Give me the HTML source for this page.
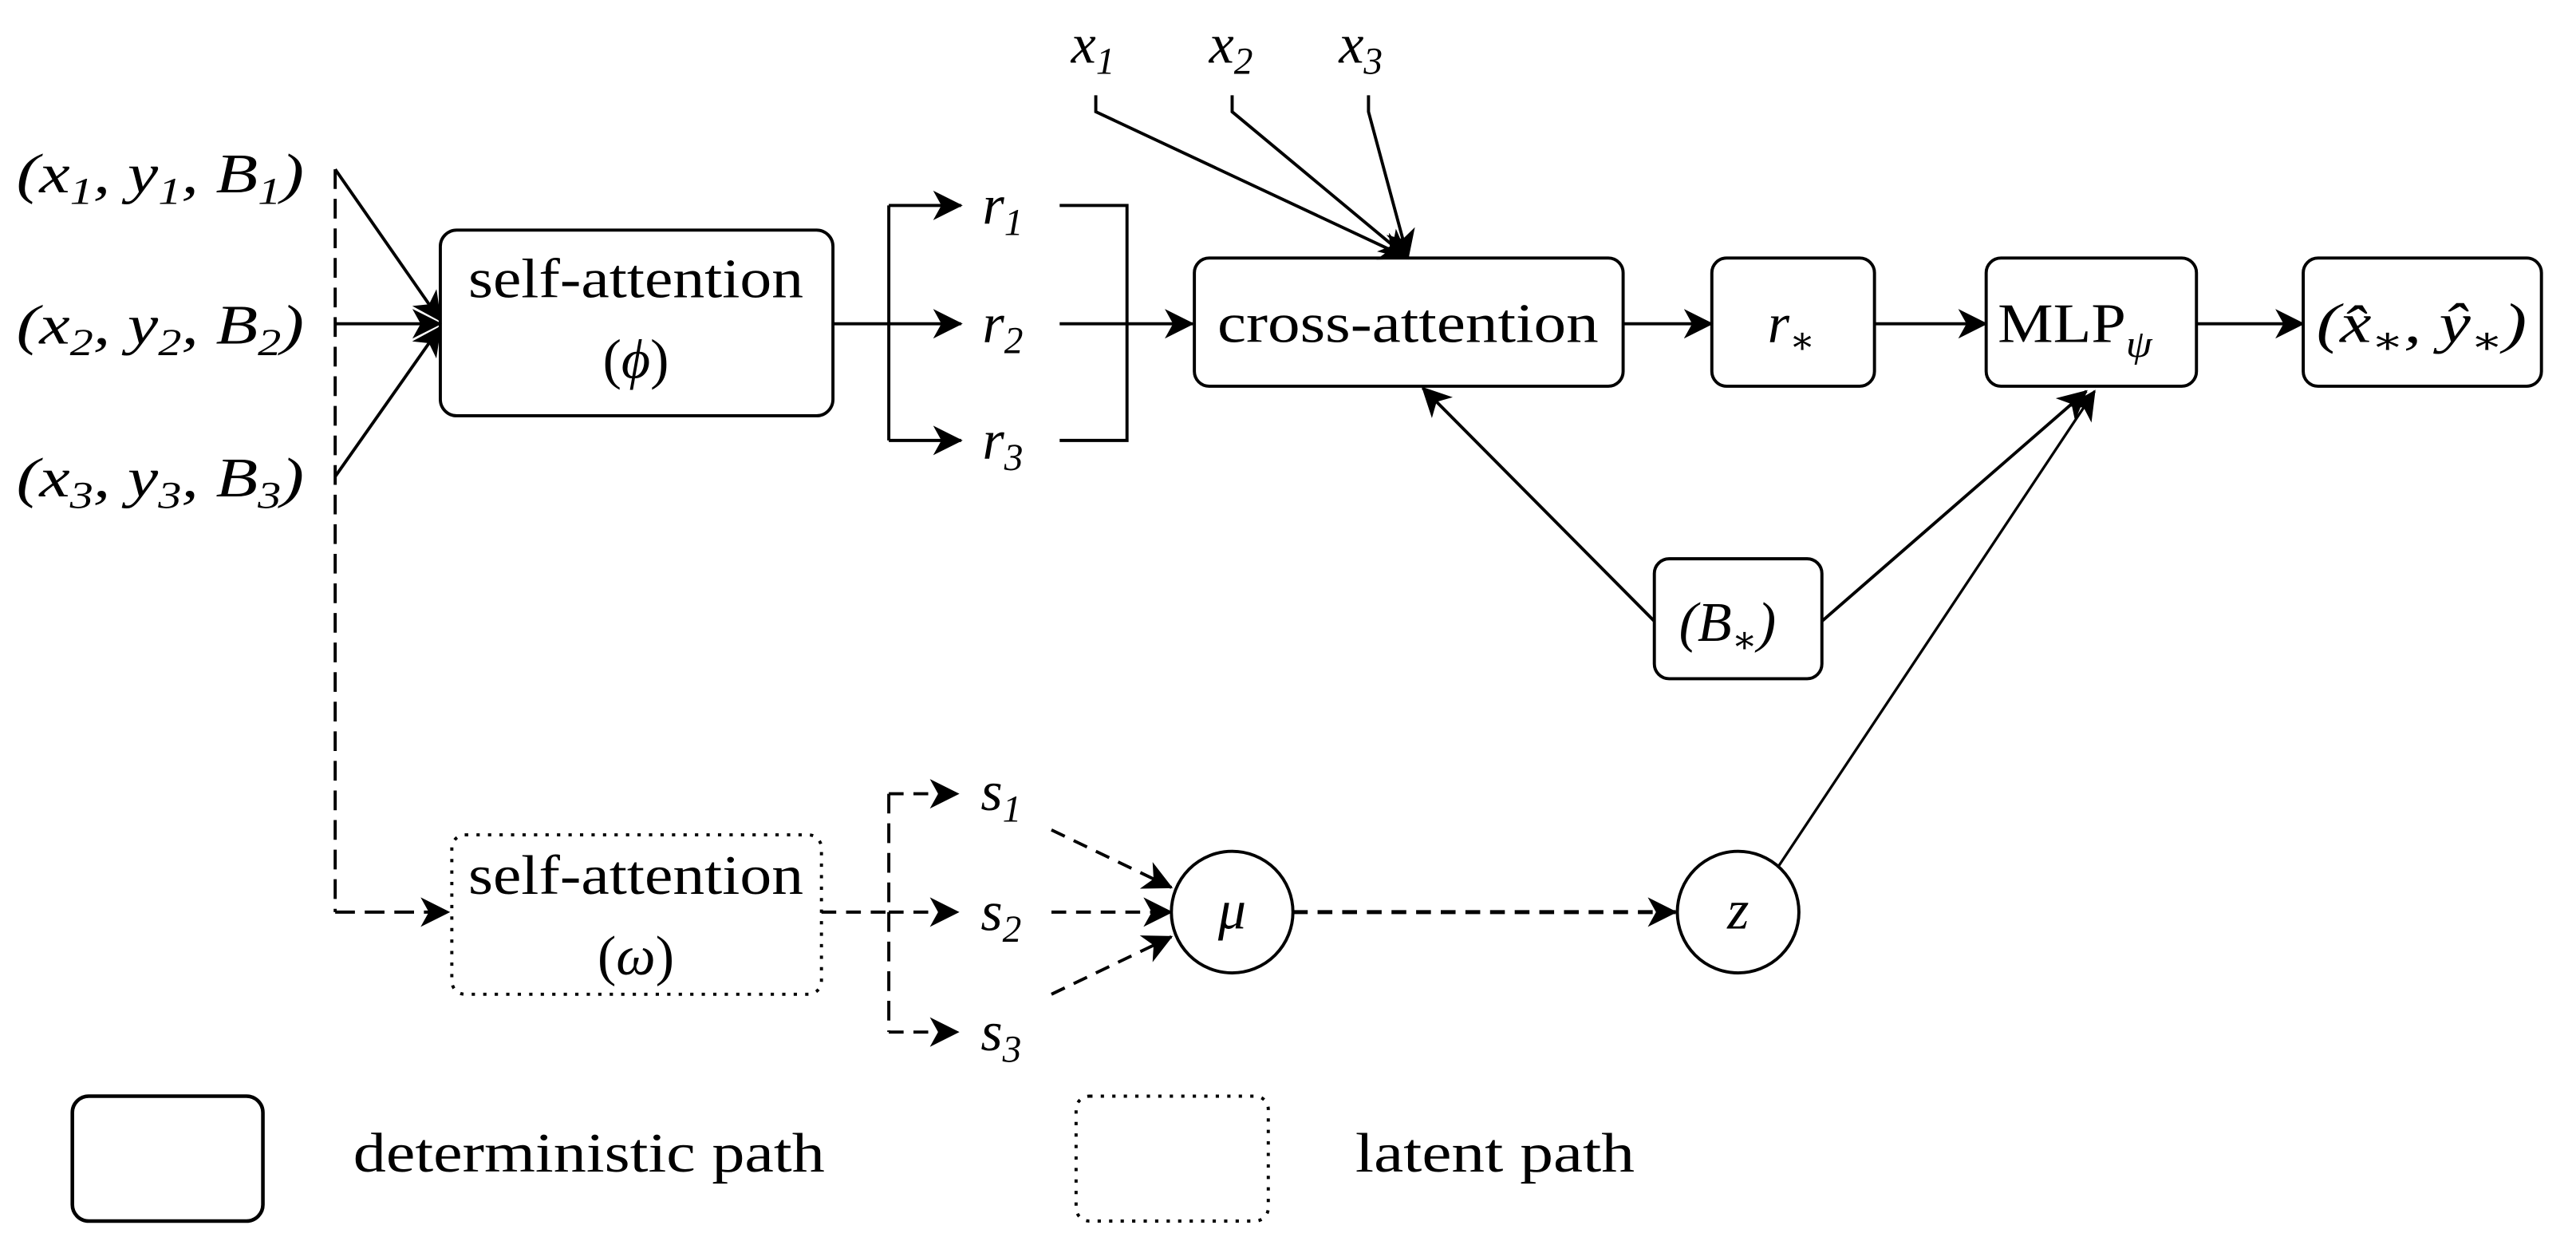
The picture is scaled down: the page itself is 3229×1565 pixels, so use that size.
<!DOCTYPE html>
<html><head><meta charset="utf-8"><style>
html,body{margin:0;padding:0;background:#fff;}
svg{display:block;}
text{font-family:"Liberation Serif","DejaVu Serif",serif;fill:#000;}
.m{font-style:italic;}
</style></head><body>
<svg width="3229" height="1565" viewBox="0 0 1568 760" xmlns="http://www.w3.org/2000/svg">
<defs>
<marker id="a" markerUnits="userSpaceOnUse" markerWidth="20" markerHeight="18" refX="17" refY="9" orient="auto">
<path d="M0,0 L18,9 L0,18 L5,9 z" fill="#000"/>
</marker>
</defs>
<g fill="none" stroke="#000" stroke-width="1.9">
<line x1="204" y1="103" x2="204" y2="555" stroke-dasharray="12,6"/>
<path d="M204,555 L273,555" stroke-dasharray="12,6" marker-end="url(#a)"/>
<path d="M204,103 L268,195" marker-end="url(#a)"/>
<path d="M204,197 L268,197" marker-end="url(#a)"/>
<path d="M204,290 L268,199" marker-end="url(#a)"/>
<rect x="268" y="140" width="239" height="113" rx="10"/>
<line x1="507" y1="197" x2="541" y2="197"/>
<path d="M541,125 L541,268"/>
<path d="M541,125 L585,125" marker-end="url(#a)"/>
<path d="M541,197 L585,197" marker-end="url(#a)"/>
<path d="M541,268 L585,268" marker-end="url(#a)"/>
<path d="M645,125 L686,125 L686,268 L645,268"/>
<path d="M645,197 L726,197" marker-end="url(#a)"/>
<rect x="727" y="157" width="261" height="78" rx="9"/>
<path d="M667,58 L667,68 L857,157" marker-end="url(#a)"/>
<path d="M750,58 L750,68 L857,157" marker-end="url(#a)"/>
<path d="M833,58 L833,68 L857,157" marker-end="url(#a)"/>
<path d="M988,197 L1042,197" marker-end="url(#a)"/>
<rect x="1042" y="157" width="99" height="78" rx="9"/>
<path d="M1141,197 L1209,197" marker-end="url(#a)"/>
<rect x="1209" y="157" width="128" height="78" rx="9"/>
<path d="M1337,197 L1402,197" marker-end="url(#a)"/>
<rect x="1402" y="157" width="145" height="78" rx="9"/>
<rect x="1007" y="340" width="102" height="73" rx="9"/>
<path d="M1007,378 L866,236" marker-end="url(#a)"/>
<path d="M1109,378 L1270,238" marker-end="url(#a)"/>
<path d="M1082,528 L1275,238" stroke-width="1.6" marker-end="url(#a)"/>
<rect x="275" y="508" width="225" height="97" rx="8" stroke-dasharray="2,5"/>
<line x1="500" y1="555" x2="541" y2="555" stroke-dasharray="9,6"/>
<line x1="541" y1="483" x2="541" y2="628" stroke-dasharray="12,6"/>
<path d="M541,483 L583,483" stroke-dasharray="9,6" marker-end="url(#a)"/>
<path d="M541,555 L583,555" stroke-dasharray="9,6" marker-end="url(#a)"/>
<path d="M541,628 L583,628" stroke-dasharray="9,6" marker-end="url(#a)"/>
<path d="M640,505 L713,540" stroke-dasharray="9,6" marker-end="url(#a)"/>
<path d="M640,555 L713,555" stroke-dasharray="9,6" marker-end="url(#a)"/>
<path d="M640,605 L713,570" stroke-dasharray="9,6" marker-end="url(#a)"/>
<circle cx="750" cy="555" r="37"/>
<path d="M787,555 L1020,555" stroke-dasharray="9,6" stroke-width="2.4" marker-end="url(#a)"/>
<circle cx="1058" cy="555" r="37"/>
<rect x="44" y="667" width="116" height="76" rx="10" stroke-width="2.2"/>
<rect x="655" y="667" width="117" height="76" rx="8" stroke-dasharray="2,5"/>
</g>
<g font-size="34">
<text x="10" y="117" class="m" textLength="175" lengthAdjust="spacingAndGlyphs">(x<tspan font-size="23" dy="7">1</tspan><tspan dy="-7">, y</tspan><tspan font-size="23" dy="7">1</tspan><tspan dy="-7">, B</tspan><tspan font-size="23" dy="7">1</tspan><tspan dy="-7">)</tspan></text>
<text x="10" y="209" class="m" textLength="175" lengthAdjust="spacingAndGlyphs">(x<tspan font-size="23" dy="7">2</tspan><tspan dy="-7">, y</tspan><tspan font-size="23" dy="7">2</tspan><tspan dy="-7">, B</tspan><tspan font-size="23" dy="7">2</tspan><tspan dy="-7">)</tspan></text>
<text x="10" y="302" class="m" textLength="175" lengthAdjust="spacingAndGlyphs">(x<tspan font-size="23" dy="7">3</tspan><tspan dy="-7">, y</tspan><tspan font-size="23" dy="7">3</tspan><tspan dy="-7">, B</tspan><tspan font-size="23" dy="7">3</tspan><tspan dy="-7">)</tspan></text>
<text x="387" y="181" text-anchor="middle" textLength="204" lengthAdjust="spacingAndGlyphs">self-attention</text>
<text x="387" y="230" text-anchor="middle">(<tspan class="m">ϕ</tspan>)</text>
<text x="598" y="136" class="m">r<tspan font-size="23" dy="7">1</tspan></text>
<text x="598" y="208" class="m">r<tspan font-size="23" dy="7">2</tspan></text>
<text x="598" y="279" class="m">r<tspan font-size="23" dy="7">3</tspan></text>
<text x="652" y="38" class="m">x<tspan font-size="23" dy="7">1</tspan></text>
<text x="736" y="38" class="m">x<tspan font-size="23" dy="7">2</tspan></text>
<text x="815" y="38" class="m">x<tspan font-size="23" dy="7">3</tspan></text>
<text x="857" y="208" text-anchor="middle" textLength="232" lengthAdjust="spacingAndGlyphs">cross-attention</text>
<text x="1076" y="208" class="m">r<tspan font-size="23" dy="7">∗</tspan></text>
<text x="1216" y="208" textLength="94" lengthAdjust="spacingAndGlyphs">MLP<tspan font-size="23" dy="9" class="m">ψ</tspan></text>
<text x="1410" y="208" class="m" textLength="128" lengthAdjust="spacingAndGlyphs">(x̂<tspan font-size="23" dy="7">∗</tspan><tspan dy="-7">, ŷ</tspan><tspan font-size="23" dy="7">∗</tspan><tspan dy="-7">)</tspan></text>
<text x="1022" y="390" class="m">(B<tspan font-size="23" dy="7">∗</tspan><tspan dy="-7">)</tspan></text>
<text x="387" y="544" text-anchor="middle" textLength="204" lengthAdjust="spacingAndGlyphs">self-attention</text>
<text x="387" y="593" text-anchor="middle">(<tspan class="m">ω</tspan>)</text>
<text x="597" y="493" class="m">s<tspan font-size="23" dy="7">1</tspan></text>
<text x="597" y="566" class="m">s<tspan font-size="23" dy="7">2</tspan></text>
<text x="597" y="639" class="m">s<tspan font-size="23" dy="7">3</tspan></text>
<text x="750" y="565" class="m" text-anchor="middle">μ</text>
<text x="1058" y="565" class="m" text-anchor="middle">z</text>
<text x="215" y="713" textLength="287" lengthAdjust="spacingAndGlyphs">deterministic path</text>
<text x="825" y="713" textLength="170" lengthAdjust="spacingAndGlyphs">latent path</text>
</g>
</svg>
</body></html>
